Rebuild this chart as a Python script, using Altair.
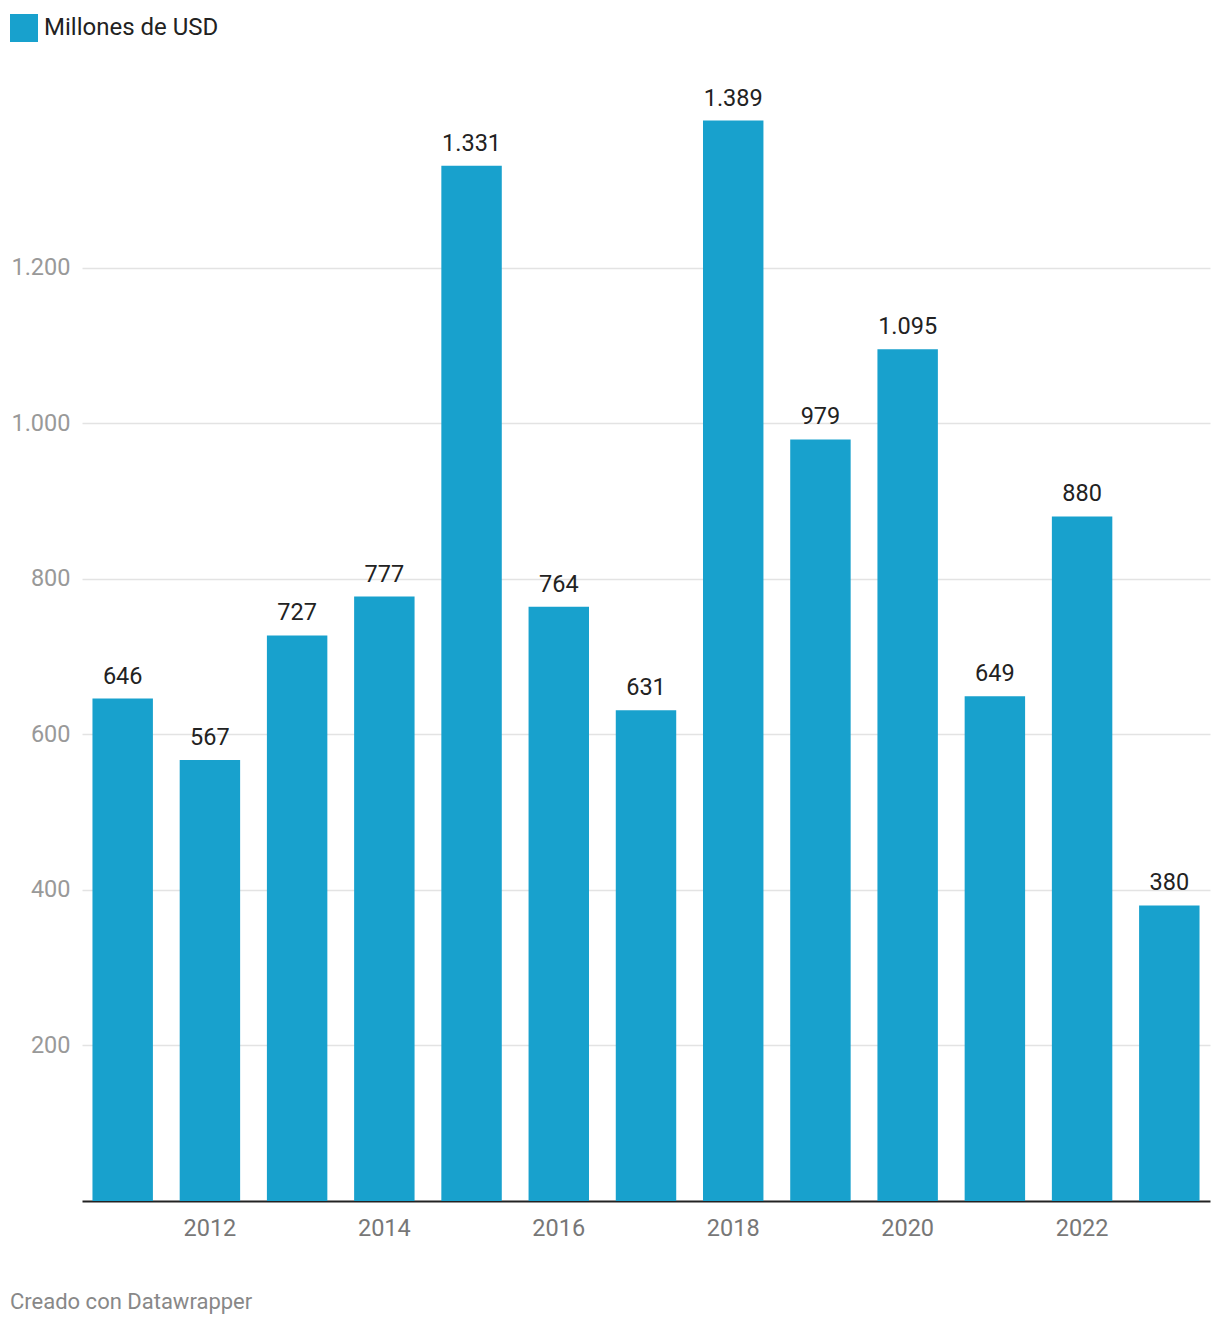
import altair as alt
import pandas as pd

years = ["2011", "2012", "2013", "2014", "2015", "2016", "2017",
         "2018", "2019", "2020", "2021", "2022", "2023"]
values = [646, 567, 727, 777, 1331, 764, 631, 1389, 979, 1095, 649, 880, 380]
series_name = "Millones de USD"
x_tick_labels = ["2012", "2014", "2016", "2018", "2020", "2022"]
y_tick_values = [200, 400, 600, 800, 1000, 1200]
footer = "Creado con Datawrapper"

df = pd.DataFrame({"year": years, "value": values, "serie": series_name})

FONT = "Roboto"
W, H = 1128, 1089

base = alt.Chart(df).transform_calculate(
    label="replace(format(datum.value, ','), ',', '.')"
)

x = alt.X("year:O", title=None,
          scale=alt.Scale(paddingInner=0.307, paddingOuter=0.12),
          axis=alt.Axis(values=x_tick_labels, labelAngle=0, ticks=False,
                        domainColor="#222222", domainWidth=2,
                        labelColor="#777777", labelFontSize=23.5, labelFont=FONT,
                        labelPadding=15, grid=False))

bars = base.mark_bar(color="#18a1cd").encode(
    x=x,
    y=alt.Y("value:Q", title=None,
            scale=alt.Scale(domain=[0, 1400], nice=False),
            axis=alt.Axis(values=y_tick_values, ticks=False, domain=False,
                          gridColor="#e3e3e3", gridWidth=1.5,
                          labelColor="#999999", labelFontSize=23.5, labelFont=FONT,
                          labelPadding=12,
                          labelExpr="replace(format(datum.value, ','), ',', '.')")),
    color=alt.Color("serie:N", title=None,
                    scale=alt.Scale(range=["#18a1cd"]),
                    legend=alt.Legend(orient="none", legendX=-72, legendY=-98,
                                      symbolType="square", symbolSize=784,
                                      symbolStrokeWidth=0, symbolOpacity=1,
                                      labelFontSize=24, labelFont=FONT,
                                      labelColor="#222222", labelOffset=6,
                                      labelLimit=500)),
)

texts = base.mark_text(baseline="bottom", dy=-10, fontSize=23.5, font=FONT,
                       color="#222222").encode(
    x=alt.X("year:O"),
    y=alt.Y("value:Q"),
    text="label:N",
)

chart = alt.layer(bars, texts).properties(
    width=W, height=H,
    padding={"left": 2, "top": 6, "right": 2, "bottom": 10},
    title=alt.TitleParams(footer, orient="bottom", anchor="start", frame="bounds",
                          font=FONT, fontSize=22, fontWeight="normal",
                          color="#888888", offset=52),
).configure(font=FONT).configure_view(strokeWidth=0, stroke="transparent")

chart.save("out.html", embed_options={"renderer": "svg", "actions": False})
